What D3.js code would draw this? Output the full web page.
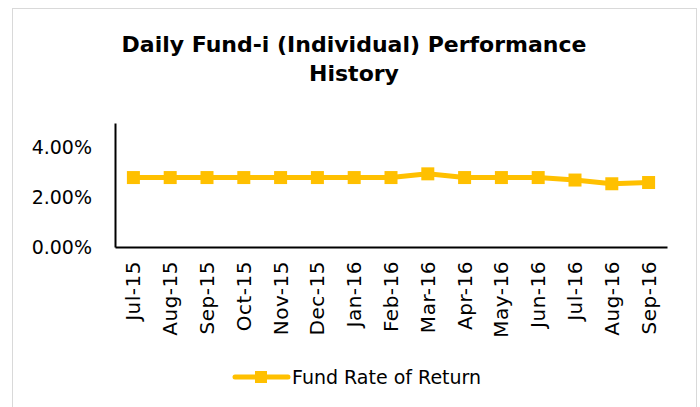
<!DOCTYPE html>
<html>
<head>
<meta charset="utf-8">
<script src="https://cdn.jsdelivr.net/npm/d3@7"></script>
<style>
  body { margin: 0; background: #fff; }
  svg { display: block; font-family: "DejaVu Sans", sans-serif; }
</style>
</head>
<body>
<div id="main"></div>
<script>
const cte = {
    w: 700,
    h: 407,
    color: "#FFC000"
};

// data
const months = ["Jul-15", "Aug-15", "Sep-15", "Oct-15", "Nov-15", "Dec-15", "Jan-16",
                "Feb-16", "Mar-16", "Apr-16", "May-16", "Jun-16", "Jul-16", "Aug-16", "Sep-16"];
const rateOfReturn = [2.8, 2.8, 2.8, 2.8, 2.8, 2.8, 2.8, 2.8, 2.95, 2.8, 2.8, 2.8, 2.7, 2.55, 2.6];
const yTicks = [0, 2, 4];
const seriesName = "Fund Rate of Return";
const titleLines = ["Daily Fund-i (Individual) Performance", "History"];

const data = months.map((m, i) => ({ month: m, value: rateOfReturn[i] }));

const margin = { top: 123, left: 115, right: 33, bottom: 160 };
const width = cte.w - margin.left - margin.right;
const height = cte.h - margin.top - margin.bottom;

const svg = d3.select("#main").append("svg")
    .attr("width", cte.w)
    .attr("height", cte.h);

// chart area border
svg.append("rect")
    .attr("x", 12.5).attr("y", 8.5)
    .attr("width", 684).attr("height", 410)
    .attr("fill", "#fff")
    .attr("stroke", "#d9d9d9")
    .attr("stroke-width", 1);

// title
svg.append("g").selectAll("text")
    .data(titleLines)
    .enter().append("text")
    .attr("x", 354)
    .attr("y", (d, i) => 52 + i * 29)
    .attr("text-anchor", "middle")
    .style("font-size", "22px")
    .style("font-weight", "bold")
    .style("fill", "#000")
    .text(d => d);

const xScale = d3.scaleBand()
    .domain(months)
    .range([0, width]);

const yScale = d3.scaleLinear()
    .domain([0, 5])
    .range([height, 0]);

const g = svg.append("g")
    .attr("transform", `translate(${margin.left}, ${margin.top})`);

// y axis
const yAxis = g.append("g")
    .call(d3.axisLeft(yScale).tickValues(yTicks).tickSize(0).tickPadding(23)
        .tickFormat(d => d.toFixed(2) + "%"));
yAxis.select(".domain").attr("stroke", "#000").attr("stroke-width", 2);
yAxis.selectAll("text")
    .style("font-size", "19px")
    .style("fill", "#000")
    .style("font-family", "'DejaVu Sans', sans-serif");

// x axis
const xAxis = g.append("g")
    .attr("transform", `translate(0, ${height})`)
    .call(d3.axisBottom(xScale).tickSize(0).tickPadding(0));
xAxis.select(".domain").attr("stroke", "#000").attr("stroke-width", 2);
xAxis.selectAll("text")
    .attr("transform", "rotate(-90)")
    .attr("text-anchor", "end")
    .attr("x", -14)
    .attr("y", 0)
    .attr("dy", "0.35em")
    .style("font-size", "20px")
    .style("letter-spacing", "0.5px")
    .style("fill", "#000")
    .style("font-family", "'DejaVu Sans', sans-serif");

// line
const lineGenerator = d3.line()
    .x(d => xScale(d.month) + xScale.bandwidth() / 2)
    .y(d => yScale(d.value));

g.append("path")
    .datum(data)
    .attr("d", lineGenerator)
    .attr("fill", "none")
    .attr("stroke", cte.color)
    .attr("stroke-width", 5)
    .attr("stroke-linejoin", "round");

const mSize = 13;
g.selectAll(".marker")
    .data(data)
    .enter().append("rect")
    .attr("class", "marker")
    .attr("x", d => xScale(d.month) + xScale.bandwidth() / 2 - mSize / 2)
    .attr("y", d => yScale(d.value) - mSize / 2)
    .attr("width", mSize)
    .attr("height", mSize)
    .attr("fill", cte.color);

// legend
const legend = svg.append("g").attr("transform", "translate(233, 377)");
legend.append("line")
    .attr("x1", 2).attr("x2", 55)
    .attr("stroke", cte.color)
    .attr("stroke-width", 5)
    .attr("stroke-linecap", "round");
legend.append("rect")
    .attr("x", 22).attr("y", -6)
    .attr("width", 12).attr("height", 12)
    .attr("fill", cte.color);
legend.append("text")
    .attr("x", 59)
    .attr("y", 0)
    .attr("dy", "0.35em")
    .style("font-size", "19px")
    .style("fill", "#000")
    .text(seriesName);
</script>
</body>
</html>
